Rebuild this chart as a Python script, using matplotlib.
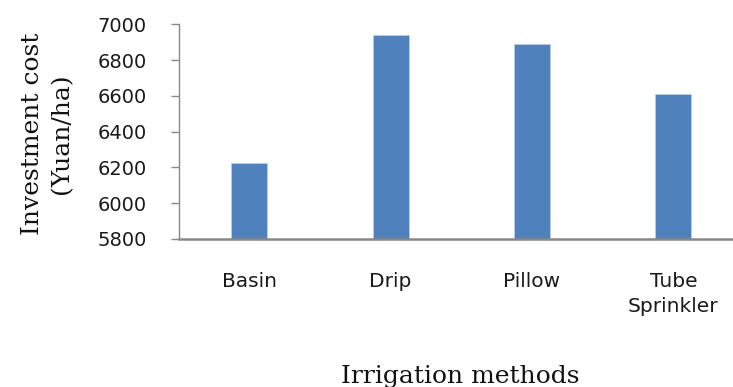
import matplotlib
matplotlib.use("Agg")
import matplotlib.pyplot as plt

categories = ["Basin", "Drip", "Pillow", "Tube\nSprinkler"]
values = [6222, 6939, 6892, 6613]
yticks = [5800, 6000, 6200, 6400, 6600, 6800, 7000]

W, H = 733, 387
fig = plt.figure(figsize=(W / 100, H / 100), dpi=100)
left, right = 178.5 / W, 744 / W
bottom, top = 1 - 239 / H, 1 - 24.3 / H
ax = fig.add_axes([left, bottom, right - left, top - bottom])

x = list(range(len(categories)))
ax.bar(x, values, width=0.255, color="#4F81BD", edgecolor="#B9CDE5", linewidth=0.6, zorder=3)

ax.set_ylim(5800, 7000)
ax.set_xlim(-0.5, 3.5)
ax.set_yticks(yticks)
ax.set_yticklabels([str(v) for v in yticks], family="DejaVu Sans", fontsize=14, color="#1a1a1a")
ax.set_xticks(x)
ax.set_xticklabels(categories, family="DejaVu Sans", fontsize=14.5, color="#1a1a1a", linespacing=1.35)

ax.tick_params(axis="y", length=6, width=1, color="#888888", pad=17, direction="out")
ax.tick_params(axis="x", length=0, pad=24)

for s in ["top", "right"]:
    ax.spines[s].set_visible(False)
ax.spines["left"].set_color("#888888")
ax.spines["left"].set_linewidth(1)
ax.spines["bottom"].set_color("#888888")
ax.spines["bottom"].set_linewidth(1.8)
ax.spines["bottom"].set_zorder(4)

fig.text(47 / W, 1 - 134 / H, "Investment cost\n(Yuan/ha)", rotation=90, ha="center", va="center",
         family="DejaVu Serif", fontsize=18, multialignment="center", linespacing=1.35, color="#111111")
fig.text(460 / W, 1 - 383 / H, "Irrigation methods", ha="center", va="baseline",
         family="DejaVu Serif", fontsize=18, color="#111111")

fig.savefig("out.png", dpi=100)
